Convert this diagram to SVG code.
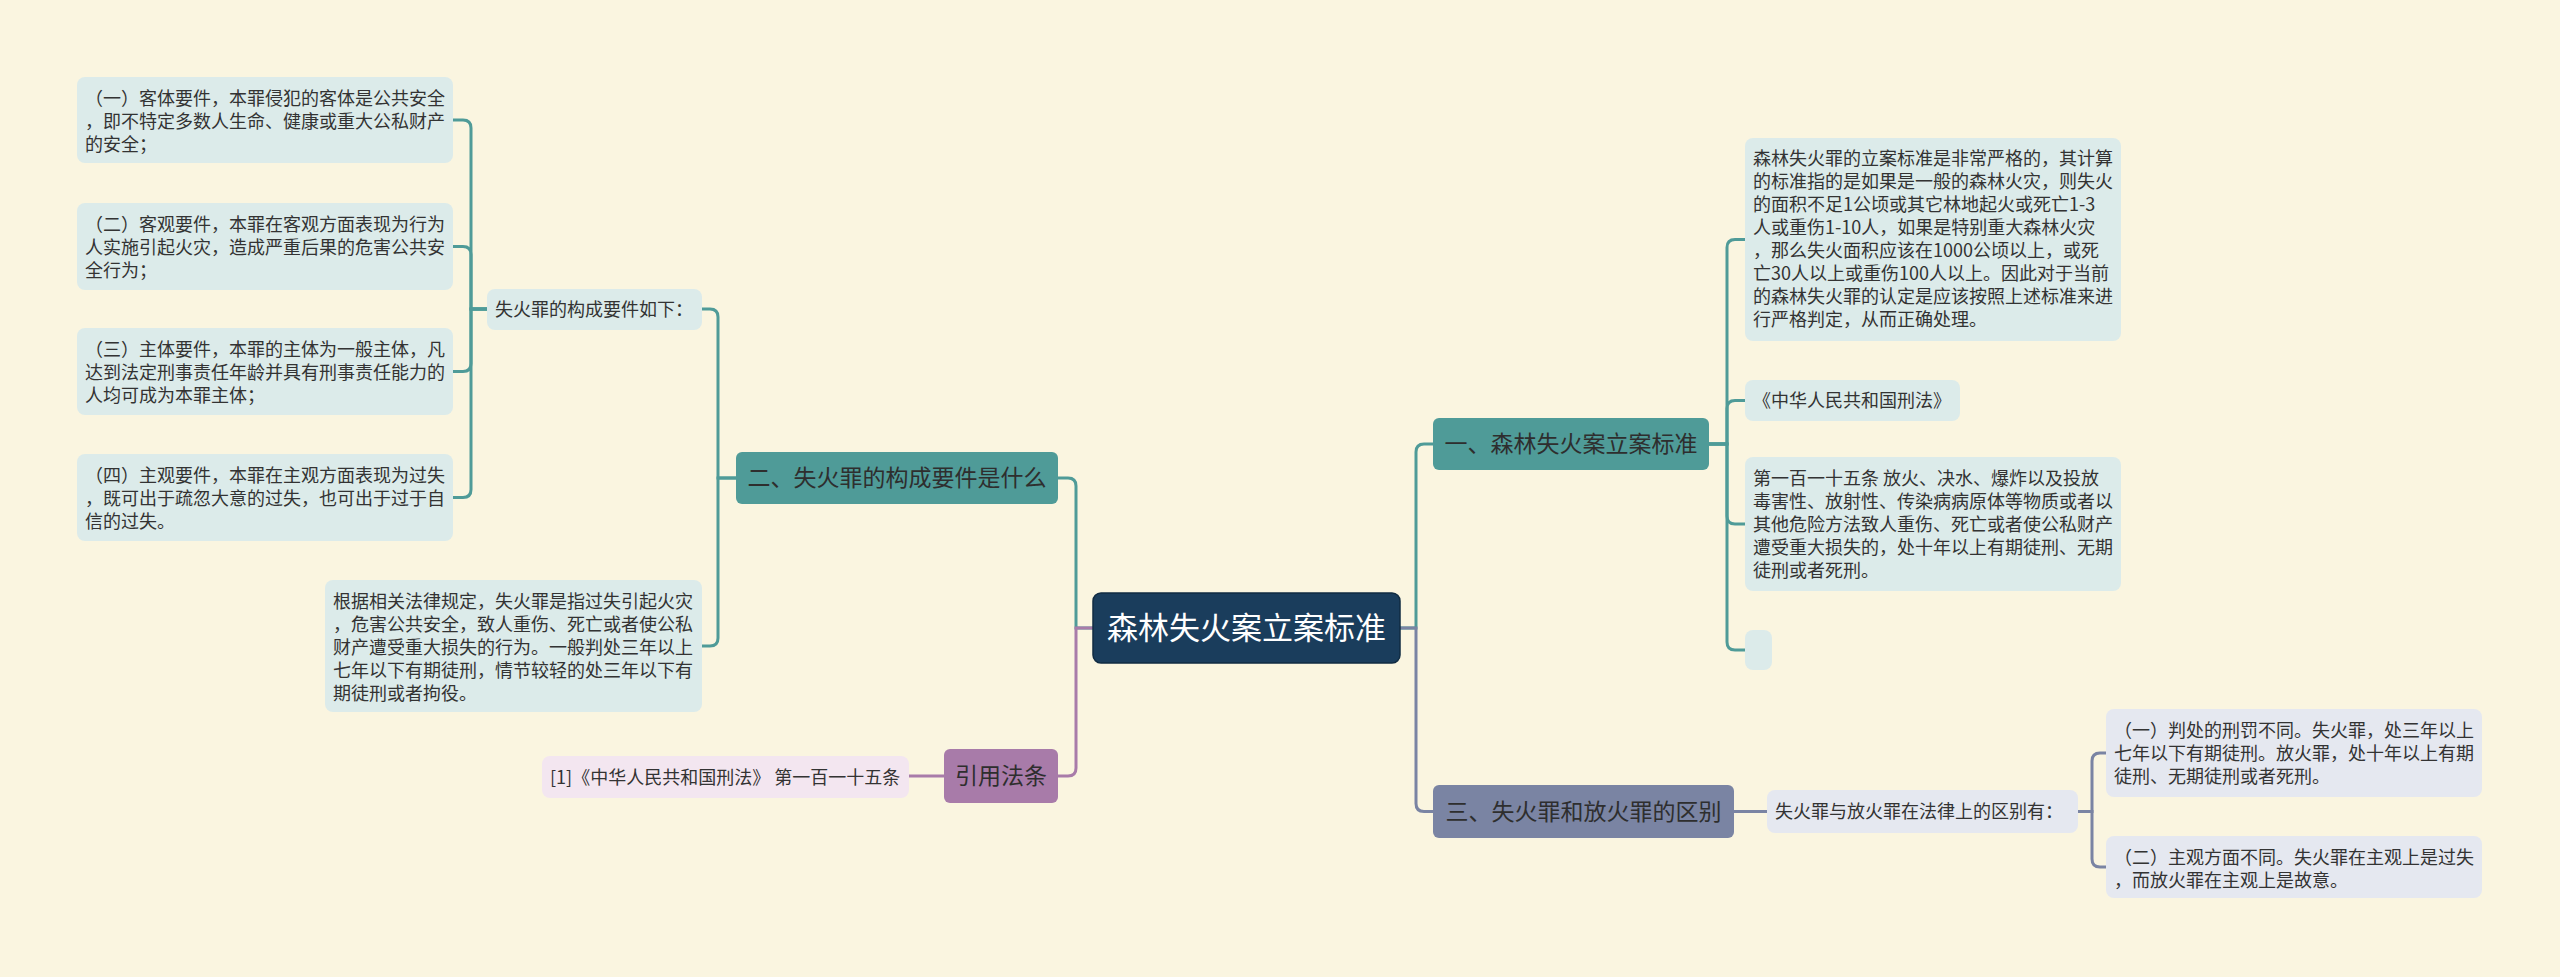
<svg xmlns="http://www.w3.org/2000/svg" width="2560" height="977" viewBox="0 0 2560 977">
<style>
text{font-family:"Noto Sans CJK SC","Noto Sans",sans-serif;}
.leaf{font-size:18px;fill:#333333;}
.br{font-size:23px;fill:#2e2e2e;text-anchor:middle;}
.root{font-size:31px;fill:#ffffff;text-anchor:middle;}
.c{fill:none;stroke-width:3;stroke-linecap:round;}
.ct{stroke:#4f9b98;}
.cp{stroke:#a87ba9;}
.cs{stroke:#7a84a3;}
.lt{fill:#dcebea;}
.lp{fill:#f3e6f0;}
.ls{fill:#e5e8f0;}
</style>
<rect width="2560" height="977" fill="#faf5e0"/>
<g id="connectors">
<path class="c ct" d="M1093,628 H1076 V486 Q1076,478 1068,478 H1058"/>
<path class="c cp" d="M1093,628 H1076 V768 Q1076,776 1068,776 H1058"/>
<path class="c ct" d="M736,478 H718 V317 Q718,309 710,309 H702"/>
<path class="c ct" d="M736,478 H718 V638 Q718,646 710,646 H702"/>
<path class="c ct" d="M487,309 H471 V128 Q471,120 463,120 H453"/>
<path class="c ct" d="M487,309 H471 V254.5 Q471,246.5 463,246.5 H453"/>
<path class="c ct" d="M487,309 H471 V363.5 Q471,371.5 463,371.5 H453"/>
<path class="c ct" d="M487,309 H471 V489.5 Q471,497.5 463,497.5 H453"/>
<path class="c ct" d="M1400,628 H1416 V452 Q1416,444 1424,444 H1433"/>
<path class="c cs" d="M1400,628 H1416 V803.5 Q1416,811.5 1424,811.5 H1433"/>
<path class="c ct" d="M1709,444 H1727 V247.5 Q1727,239.5 1735,239.5 H1745"/>
<path class="c ct" d="M1709,444 H1727 V408.5 Q1727,400.5 1735,400.5 H1745"/>
<path class="c ct" d="M1709,444 H1727 V516 Q1727,524 1735,524 H1745"/>
<path class="c ct" d="M1709,444 H1727 V642 Q1727,650 1735,650 H1745"/>
<path class="c cs" d="M1734,811.5 H1767"/>
<path class="c cs" d="M2078,811.5 H2092 V761 Q2092,753 2100,753 H2106"/>
<path class="c cs" d="M2078,811.5 H2092 V859 Q2092,867 2100,867 H2106"/>
<path class="c cp" d="M944,776 H909"/>
</g>
<g id="root">
<rect x="1093" y="593" width="307" height="70" rx="8" fill="#1a3d5c" stroke="#102b42" stroke-width="1.5"/>
<text class="root" x="1246.5" y="639">森林失火案立案标准</text>
</g>
<g id="branch-2">
<rect x="736" y="452" width="322" height="52" rx="6" fill="#4f9b98"/>
<text class="br" x="897" y="486">二、失火罪的构成要件是什么</text>
</g>
<g id="leaf-2-a">
<rect class="lt" x="487" y="289" width="215" height="41" rx="8"/>
<text class="leaf" x="495" y="316">失火罪的构成要件如下：</text>
</g>
<g id="leaf-2-a-1">
<rect class="lt" x="77" y="77" width="376" height="86" rx="8"/>
<text class="leaf" x="85" y="105"><tspan x="85">（一）客体要件，本罪侵犯的客体是公共安全</tspan><tspan x="85" dy="23">，即不特定多数人生命、健康或重大公私财产</tspan><tspan x="85" dy="23">的安全；</tspan></text>
</g>
<g id="leaf-2-a-2">
<rect class="lt" x="77" y="203" width="376" height="87" rx="8"/>
<text class="leaf" x="85" y="231"><tspan x="85">（二）客观要件，本罪在客观方面表现为行为</tspan><tspan x="85" dy="23">人实施引起火灾，造成严重后果的危害公共安</tspan><tspan x="85" dy="23">全行为；</tspan></text>
</g>
<g id="leaf-2-a-3">
<rect class="lt" x="77" y="328" width="376" height="87" rx="8"/>
<text class="leaf" x="85" y="356"><tspan x="85">（三）主体要件，本罪的主体为一般主体，凡</tspan><tspan x="85" dy="23">达到法定刑事责任年龄并具有刑事责任能力的</tspan><tspan x="85" dy="23">人均可成为本罪主体；</tspan></text>
</g>
<g id="leaf-2-a-4">
<rect class="lt" x="77" y="454" width="376" height="87" rx="8"/>
<text class="leaf" x="85" y="482"><tspan x="85">（四）主观要件，本罪在主观方面表现为过失</tspan><tspan x="85" dy="23">，既可出于疏忽大意的过失，也可出于过于自</tspan><tspan x="85" dy="23">信的过失。</tspan></text>
</g>
<g id="leaf-2-b">
<rect class="lt" x="325" y="580" width="377" height="132" rx="8"/>
<text class="leaf" x="333" y="608"><tspan x="333">根据相关法律规定，失火罪是指过失引起火灾</tspan><tspan x="333" dy="23">，危害公共安全，致人重伤、死亡或者使公私</tspan><tspan x="333" dy="23">财产遭受重大损失的行为。一般判处三年以上</tspan><tspan x="333" dy="23">七年以下有期徒刑，情节较轻的处三年以下有</tspan><tspan x="333" dy="23">期徒刑或者拘役。</tspan></text>
</g>
<g id="branch-cite">
<rect x="944" y="749" width="114" height="54" rx="6" fill="#a87ba9"/>
<text class="br" x="1001" y="784">引用法条</text>
</g>
<g id="leaf-cite">
<rect class="lp" x="542" y="756" width="367" height="42" rx="8"/>
<text class="leaf" x="550" y="784">[1]《中华人民共和国刑法》 第一百一十五条</text>
</g>
<g id="branch-1">
<rect x="1433" y="418" width="276" height="52" rx="6" fill="#4f9b98"/>
<text class="br" x="1571" y="452">一、森林失火案立案标准</text>
</g>
<g id="leaf-1-a">
<rect class="lt" x="1745" y="138" width="376" height="203" rx="8"/>
<text class="leaf" x="1753" y="165"><tspan x="1753">森林失火罪的立案标准是非常严格的，其计算</tspan><tspan x="1753" dy="23">的标准指的是如果是一般的森林火灾，则失火</tspan><tspan x="1753" dy="23">的面积不足1公顷或其它林地起火或死亡1-3</tspan><tspan x="1753" dy="23">人或重伤1-10人，如果是特别重大森林火灾</tspan><tspan x="1753" dy="23">，那么失火面积应该在1000公顷以上，或死</tspan><tspan x="1753" dy="23">亡30人以上或重伤100人以上。因此对于当前</tspan><tspan x="1753" dy="23">的森林失火罪的认定是应该按照上述标准来进</tspan><tspan x="1753" dy="23">行严格判定，从而正确处理。</tspan></text>
</g>
<g id="leaf-1-b">
<rect class="lt" x="1745" y="380" width="215" height="41" rx="8"/>
<text class="leaf" x="1753" y="407">《中华人民共和国刑法》</text>
</g>
<g id="leaf-1-c">
<rect class="lt" x="1745" y="457" width="376" height="134" rx="8"/>
<text class="leaf" x="1753" y="485"><tspan x="1753">第一百一十五条 放火、决水、爆炸以及投放</tspan><tspan x="1753" dy="23">毒害性、放射性、传染病病原体等物质或者以</tspan><tspan x="1753" dy="23">其他危险方法致人重伤、死亡或者使公私财产</tspan><tspan x="1753" dy="23">遭受重大损失的，处十年以上有期徒刑、无期</tspan><tspan x="1753" dy="23">徒刑或者死刑。</tspan></text>
</g>
<g id="leaf-1-d">
<rect class="lt" x="1745" y="630" width="27" height="40" rx="8"/>
</g>
<g id="branch-3">
<rect x="1433" y="785" width="301" height="53" rx="6" fill="#7a84a3"/>
<text class="br" x="1583.5" y="819.5">三、失火罪和放火罪的区别</text>
</g>
<g id="leaf-3-a">
<rect class="ls" x="1767" y="790" width="311" height="43" rx="8"/>
<text class="leaf" x="1775" y="818">失火罪与放火罪在法律上的区别有：</text>
</g>
<g id="leaf-3-a-1">
<rect class="ls" x="2106" y="709" width="376" height="88" rx="8"/>
<text class="leaf" x="2114" y="737"><tspan x="2114">（一）判处的刑罚不同。失火罪，处三年以上</tspan><tspan x="2114" dy="23">七年以下有期徒刑。放火罪，处十年以上有期</tspan><tspan x="2114" dy="23">徒刑、无期徒刑或者死刑。</tspan></text>
</g>
<g id="leaf-3-a-2">
<rect class="ls" x="2106" y="836" width="376" height="62" rx="8"/>
<text class="leaf" x="2114" y="864"><tspan x="2114">（二）主观方面不同。失火罪在主观上是过失</tspan><tspan x="2114" dy="23">，而放火罪在主观上是故意。</tspan></text>
</g>
</svg>
